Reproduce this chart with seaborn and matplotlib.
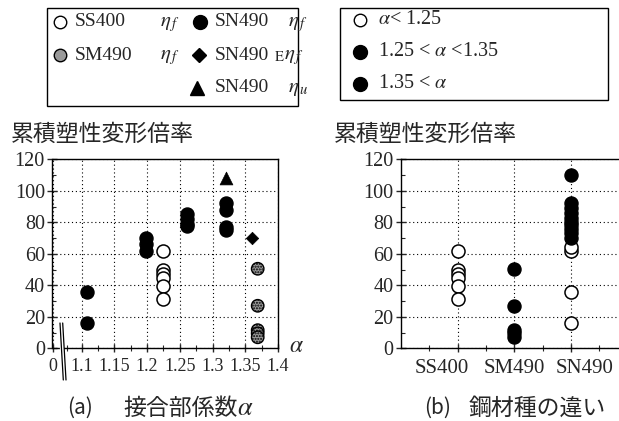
import numpy as np
import pandas as pd
import seaborn as sns
import matplotlib.pyplot as plt
from matplotlib.patches import Rectangle, Polygon
from matplotlib.transforms import ScaledTranslation

# values
# (a) cumulative plastic deformation ratio vs joint coefficient alpha
ss400_alpha = [1.225, 1.225, 1.225, 1.225, 1.225, 1.225]
ss400_eta = [62, 50, 47, 44.5, 39.5, 31.5]
sm490_alpha = [1.369, 1.369, 1.369, 1.369, 1.369]
sm490_eta = [50.5, 27, 11.5, 9.5, 7]
sn490_alpha = [1.108, 1.108, 1.198, 1.198, 1.198, 1.261, 1.261, 1.261, 1.261,
               1.32, 1.32, 1.32, 1.32]
sn490_eta = [36, 16, 70, 66, 62, 85, 82, 79, 77.5, 92, 88, 77, 75]
sn490e_alpha = [1.36]
sn490e_eta = [70]
sn490u_alpha = [1.32]
sn490u_eta = [108]

# (b) by steel grade
steels = ["SS400", "SM490", "SN490"]
open_steel = ["SS400", "SS400", "SS400", "SS400", "SS400", "SS400",
              "SN490", "SN490", "SN490", "SN490"]
open_eta = [62, 50, 47, 44.5, 39.5, 31.5, 16, 36, 62, 64.5]
filled_steel = ["SM490", "SM490", "SM490", "SM490", "SM490",
                "SN490", "SN490", "SN490", "SN490", "SN490",
                "SN490", "SN490", "SN490", "SN490", "SN490"]
filled_eta = [50.5, 27, 11.5, 9.5, 7, 110, 92, 89, 86, 83, 80, 78, 75.5, 73, 70]

alpha_ticks = [1.0557, 1.1, 1.15, 1.2, 1.25, 1.3, 1.35, 1.4]
alpha_labels = ["0", "1.1", "1.15", "1.2", "1.25", "1.3", "1.35", "1.4"]

sns.set_theme(style="white")
plt.rcParams["font.family"] = ["Liberation Serif", "Noto Sans CJK JP"]
plt.rcParams["mathtext.fontset"] = "stix"
JP = ["Noto Sans CJK JP", "Liberation Serif"]

W, H = 619, 421
fig = plt.figure(figsize=(W / 100, H / 100), dpi=100)


def px_box(x0, y0, x1, y1):
    return [x0 / W, 1 - y1 / H, (x1 - x0) / W, (y1 - y0) / H]


ax1 = fig.add_axes(px_box(52.5, 159.3, 278, 348.3))
ax2 = fig.add_axes(px_box(401, 159.3, 619, 348.3))

# ---- panel (a)
sns.scatterplot(x=ss400_alpha, y=ss400_eta, ax=ax1, marker="o", s=88,
                color="white", edgecolor="black", linewidth=1.1, zorder=3)
sns.scatterplot(x=sm490_alpha, y=sm490_eta, ax=ax1, marker="o", s=80,
                color="#9a9a9a", edgecolor="black", linewidth=1.0,
                hatch="......", zorder=3)
sns.scatterplot(x=sn490_alpha, y=sn490_eta, ax=ax1, marker="o", s=88,
                color="black", edgecolor="black", linewidth=1.0, zorder=3)
sns.scatterplot(x=sn490e_alpha, y=sn490e_eta, ax=ax1, marker="D", s=40,
                color="black", edgecolor="black", linewidth=0.5, zorder=3)
sns.scatterplot(x=sn490u_alpha, y=sn490u_eta, ax=ax1, marker="^", s=85,
                color="black", edgecolor="black", linewidth=0.5, zorder=3)

ax1.set_xlim(1.0557, 1.4)
ax1.set_xticks(alpha_ticks)
ax1.set_xticklabels(alpha_labels)
ax1.set_xticks([1.078, 1.125, 1.175, 1.225, 1.275, 1.325, 1.375], minor=True)

# ---- panel (b)
sns.stripplot(x=open_steel, y=open_eta, order=steels, ax=ax2, jitter=False,
              color="white", edgecolor="black", linewidth=1.1, size=9.4,
              zorder=3)
sns.stripplot(x=filled_steel, y=filled_eta, order=steels, ax=ax2, jitter=False,
              color="black", edgecolor="black", linewidth=1.0, size=9.4,
              zorder=4)
ax2.set_xlim(-1.0, 2.845)
ax2.set_xticks([0, 1, 2])
ax2.set_xticklabels(steels)
ax2.set_xticks([-0.5, 0.5, 1.5, 2.5], minor=True)
ax2.spines["right"].set_visible(False)

for ax in (ax1, ax2):
    ax.set_ylim(0, 120)
    ax.set_yticks(range(0, 121, 20))
    ax.set_yticks(range(0, 121, 10), minor=True)
    ax.grid(True, which="major", linestyle=(0, (1, 2.5)), color="black",
            linewidth=0.8)
    ax.set_axisbelow(True)
    for sp in ax.spines.values():
        sp.set_color("black")
        sp.set_linewidth(1.0)
    ax.tick_params(axis="y", which="major", direction="inout", length=7,
                   width=1, labelsize=14.5, pad=2, left=True)
    ax.tick_params(axis="y", which="minor", direction="in", length=3,
                   width=0.8, left=True)
    ax.tick_params(axis="x", which="major", direction="inout", length=6,
                   width=1, pad=4, bottom=True)
    ax.tick_params(axis="x", which="minor", direction="inout", length=4,
                   width=0.8, bottom=True)
    ax.set_xlabel("")
    ax.set_ylabel("")
ax1.tick_params(axis="x", which="major", labelsize=13)
ax2.tick_params(axis="x", which="major", labelsize=15, pad=5)

# the steel grade labels sit a little wider apart than their ticks
for lab, dx in zip(ax2.get_xticklabels(), [-16, 0, 13]):
    lab.set_transform(lab.get_transform()
                      + ScaledTranslation(dx / 100, 0, fig.dpi_scale_trans))

# ---- overlay in pixel coordinates for texts, legends, axis break
ov = fig.add_axes([0, 0, 1, 1], zorder=10)
ov.set_xlim(0, W)
ov.set_ylim(H, 0)
ov.axis("off")
ov.patch.set_alpha(0)

# axis break on the alpha axis
ov.add_patch(Polygon([(60, 340), (62.7, 340), (63.8, 356), (61.1, 356)],
                     closed=True, color="white", zorder=1))
ov.plot([60, 63.3], [323, 380], color="black", lw=0.9)
ov.plot([62.7, 66], [323, 380], color="black", lw=0.9)
ov.text(289, 346, r"$\alpha$", fontsize=17, ha="left", va="center")

# axis titles and captions
ov.text(11, 134, "累積塑性変形倍率", family=JP, fontsize=16.5, ha="left",
        va="center")
ov.text(334, 134, "累積塑性変形倍率", family=JP, fontsize=16.5, ha="left",
        va="center")
ov.text(67, 408, "(a)", family=JP, fontsize=15, ha="left", va="center")
ov.text(123, 408, "接合部係数", family=JP, fontsize=16.5, ha="left",
        va="center")
ov.text(237, 409, r"$\alpha$", fontsize=19, ha="left", va="center")
ov.text(424, 408, "(b)", family=JP, fontsize=15, ha="left", va="center")
ov.text(469, 408, "鋼材種の違い", family=JP, fontsize=16.5, ha="left",
        va="center")

# legend (a)
ov.add_patch(Rectangle((47, 8), 251, 98, fill=False, ec="black", lw=1.0))
ov.plot(60, 22, "o", ms=9, mfc="white", mec="black", mew=1)
ov.text(75, 22, "SS400", fontsize=14, ha="left", va="center")
ov.text(160, 24, r"$\eta_{\,f}$", fontsize=15, ha="left", va="center")
ov.plot(60, 55, "o", ms=9, mfc="#9a9a9a", mec="black", mew=1)
ov.text(75, 55, "SM490", fontsize=14, ha="left", va="center")
ov.text(160, 57, r"$\eta_{\,f}$", fontsize=15, ha="left", va="center")
ov.plot(200, 22, "o", ms=10, mfc="black", mec="black")
ov.text(215, 22, "SN490", fontsize=14, ha="left", va="center")
ov.text(288, 24, r"$\eta_{\,f}$", fontsize=15, ha="left", va="center")
ov.plot(199, 55, "D", ms=7, mfc="black", mec="black")
ov.text(215, 55, "SN490", fontsize=14, ha="left", va="center")
ov.text(274, 57, r"${}_{\mathrm{E}}\eta_{\,f}$", fontsize=15, ha="left",
        va="center")
ov.plot(197, 88, "^", ms=10, mfc="black", mec="black")
ov.text(215, 87, "SN490", fontsize=14, ha="left", va="center")
ov.text(288, 89, r"$\eta_{\,u}$", fontsize=15, ha="left", va="center")

# legend (b)
ov.add_patch(Rectangle((340, 8), 268, 92, fill=False, ec="black", lw=1.0))
ov.plot(360, 20, "o", ms=9, mfc="white", mec="black", mew=1)
ov.text(378, 20, r"$\alpha$< 1.25", fontsize=14.5, ha="left", va="center")
ov.plot(360, 52, "o", ms=10, mfc="black", mec="black")
ov.text(378, 52, r"1.25 < $\alpha$ <1.35", fontsize=14.5, ha="left",
        va="center")
ov.plot(360, 84, "o", ms=10, mfc="black", mec="black")
ov.text(378, 84, r"1.35 < $\alpha$", fontsize=14.5, ha="left", va="center")

fig.savefig("out.png", dpi=100)
